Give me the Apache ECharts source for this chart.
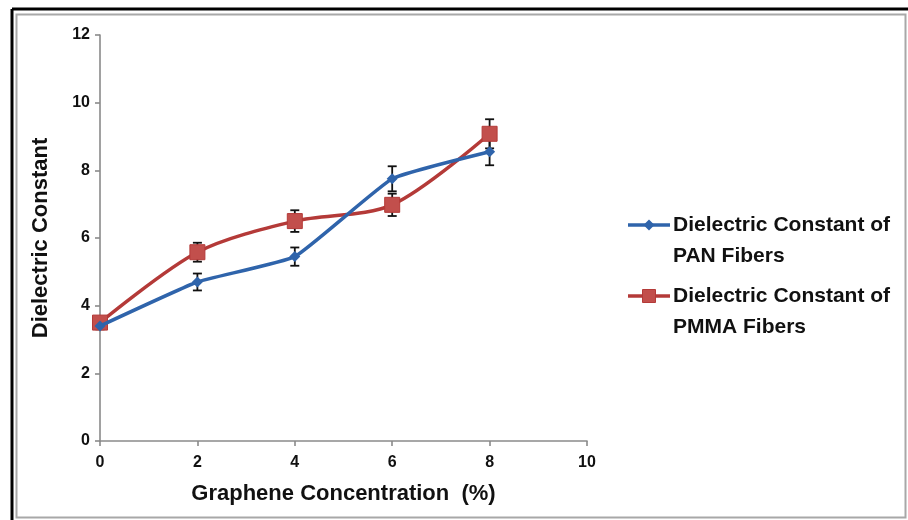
<!DOCTYPE html>
<html>
<head>
<meta charset="utf-8">
<script src="https://cdn.jsdelivr.net/npm/echarts@6/dist/echarts.min.js"></script>
<style>
  html, body { margin: 0; padding: 0; background: #fff; }
  #chart { width: 908px; height: 520px; }
</style>
</head>
<body>
<div id="chart"></div>
<script>
// Graphene concentration (%)
const concentration = [0, 2, 4, 6, 8];
// Dielectric constant of PAN fibers and its error
const panValues = [3.4, 4.7, 5.45, 7.75, 8.55];
const panErrors = [0.1, 0.25, 0.27, 0.37, 0.4];
// Dielectric constant of PMMA fibers and its error
const pmmaValues = [3.5, 5.58, 6.5, 6.98, 9.08];
const pmmaErrors = [0.1, 0.28, 0.32, 0.33, 0.43];

const panName = 'Dielectric Constant of PAN Fibers';
const pmmaName = 'Dielectric Constant of PMMA Fibers';
const legendLines = [
  ['Dielectric Constant of', 'PAN Fibers'],
  ['Dielectric Constant of', 'PMMA Fibers']
];

const BLUE = '#2f64ab';
const RED = '#b43a38';
const RED_FILL = '#c24f4c';
const FONT = '"Liberation Sans", Arial, sans-serif';

const pairs = (xs, ys) => xs.map((x, i) => [x, ys[i]]);
const errorData = (xs, ys, es) => xs.map((x, i) => [x, ys[i] - es[i], ys[i] + es[i]]);

function renderErrorBar(params, api) {
  const x = api.value(0);
  const lo = api.coord([x, api.value(1)]);
  const hi = api.coord([x, api.value(2)]);
  const half = 4.5;
  const style = { stroke: '#111', lineWidth: 1.8 };
  return {
    type: 'group',
    children: [
      { type: 'line', shape: { x1: lo[0], y1: lo[1], x2: hi[0], y2: hi[1] }, style },
      { type: 'line', shape: { x1: lo[0] - half, y1: lo[1], x2: lo[0] + half, y2: lo[1] }, style },
      { type: 'line', shape: { x1: hi[0] - half, y1: hi[1], x2: hi[0] + half, y2: hi[1] }, style }
    ]
  };
}

const chart = echarts.init(document.getElementById('chart'), null, { renderer: 'canvas' });

const axisLabelStyle = { color: '#111', fontSize: 16, fontWeight: 'bold', fontFamily: FONT };
const axisNameStyle = { color: '#111', fontSize: 22, fontWeight: 'bold', fontFamily: FONT };
const axisLineStyle = { color: '#8a8a8a', width: 1.6 };

// Legend built from graphic elements so each icon sits beside the first text line
const legendX = 628, legendTextX = 673;
const legendRows = [
  { y: 225, color: BLUE, marker: 'diamond', lines: legendLines[0] },
  { y: 296, color: RED, marker: 'square', lines: legendLines[1] }
];
const legendGraphics = [];
legendRows.forEach(row => {
  legendGraphics.push({
    type: 'line',
    shape: { x1: legendX, y1: row.y, x2: legendX + 42, y2: row.y },
    style: { stroke: row.color, lineWidth: 3.5 }
  });
  if (row.marker === 'diamond') {
    legendGraphics.push({
      type: 'polygon',
      shape: { points: [[649, row.y - 5.5], [654.5, row.y], [649, row.y + 5.5], [643.5, row.y]] },
      style: { fill: row.color }
    });
  } else {
    legendGraphics.push({
      type: 'rect',
      shape: { x: 642.5, y: row.y - 6.5, width: 13, height: 13 },
      style: { fill: RED_FILL, stroke: row.color, lineWidth: 1 }
    });
  }
  row.lines.forEach((t, i) => {
    legendGraphics.push({
      type: 'text',
      x: legendTextX,
      y: row.y + i * 31,
      style: {
        text: t, fill: '#111', fontSize: 21, fontWeight: 'bold', fontFamily: FONT,
        verticalAlign: 'middle', align: 'left'
      }
    });
  });
});

const option = {
  backgroundColor: '#fff',
  animation: false,
  grid: { left: 100, right: 321, top: 35, bottom: 79 },
  xAxis: {
    type: 'value', min: 0, max: 10, interval: 2,
    name: 'Graphene Concentration  (%)',
    nameLocation: 'middle', nameGap: 42,
    nameTextStyle: axisNameStyle,
    axisLine: { show: true, lineStyle: axisLineStyle },
    axisTick: { show: true, length: 5, lineStyle: axisLineStyle },
    axisLabel: Object.assign({ margin: 14 }, axisLabelStyle),
    splitLine: { show: false }
  },
  yAxis: {
    type: 'value', min: 0, max: 12, interval: 2,
    name: 'Dielectric Constant',
    nameLocation: 'middle', nameGap: 48,
    nameTextStyle: axisNameStyle,
    axisLine: { show: true, lineStyle: axisLineStyle },
    axisTick: { show: true, length: 5, lineStyle: axisLineStyle },
    axisLabel: Object.assign({ margin: 10 }, axisLabelStyle),
    splitLine: { show: false }
  },
  series: [
    {
      type: 'custom', name: 'PAN error', z: 1,
      renderItem: renderErrorBar,
      data: errorData(concentration, panValues, panErrors),
      encode: { x: 0, y: [1, 2] }, silent: true
    },
    {
      type: 'custom', name: 'PMMA error', z: 1,
      renderItem: renderErrorBar,
      data: errorData(concentration, pmmaValues, pmmaErrors),
      encode: { x: 0, y: [1, 2] }, silent: true
    },
    {
      type: 'line', name: panName, z: 3,
      data: pairs(concentration, panValues),
      smooth: 0.12,
      symbol: 'diamond', symbolSize: 11,
      lineStyle: { color: BLUE, width: 3.5 },
      itemStyle: { color: BLUE }
    },
    {
      type: 'line', name: pmmaName, z: 2,
      data: pairs(concentration, pmmaValues),
      smooth: 0.3,
      symbol: 'rect', symbolSize: 15,
      lineStyle: { color: RED, width: 3.5 },
      itemStyle: { color: RED_FILL, borderColor: RED, borderWidth: 1 }
    }
  ],
  graphic: [
    // picture frame: dark outer rule on the left and top, grey inner rule all round
    { type: 'line', shape: { x1: 12, y1: 9, x2: 908, y2: 9 }, style: { stroke: '#000', lineWidth: 3 } },
    { type: 'line', shape: { x1: 12, y1: 9, x2: 12, y2: 520 }, style: { stroke: '#000', lineWidth: 3 } },
    { type: 'rect', shape: { x: 16.5, y: 14.5, width: 889, height: 503 }, style: { fill: 'none', stroke: '#a8a8a8', lineWidth: 2 } }
  ].concat(legendGraphics)
};

chart.setOption(option);
</script>
</body>
</html>
